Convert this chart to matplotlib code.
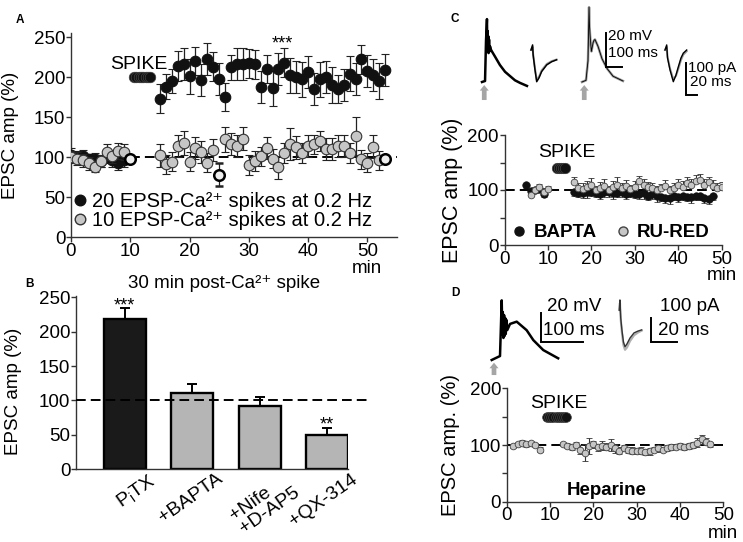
import matplotlib
matplotlib.use('Agg')
import matplotlib.pyplot as plt
from matplotlib.lines import Line2D
import matplotlib.transforms as mtransforms

plt.rcParams['font.family'] = ['Liberation Sans', 'DejaVu Sans']
plt.rcParams['mathtext.fontset'] = 'custom'
plt.rcParams['mathtext.rm'] = 'Liberation Sans'
plt.rcParams['mathtext.it'] = 'Liberation Sans:italic'
plt.rcParams['mathtext.bf'] = 'Liberation Sans:bold'

# ------------------------------------------------------------------ data
# Panel A : EPSC amplitude (%) vs time (min)
A_BLACK_BASE_T = [0, 1, 2, 3, 4, 5, 6, 7, 8, 9]
A_BLACK_BASE_V = [103, 100, 101, 97, 97, 95, 100, 96, 93, 96]
A_BLACK_BASE_E = [8, 7, 8, 7, 8, 7, 8, 9, 9, 8]
A_BLACK_T = list(range(15, 54))
A_BLACK_V = [173, 188, 195, 214, 216, 201, 220, 196, 223, 213, 197, 175, 212,
             216, 216, 217, 216, 187, 210, 186, 210, 218, 202, 200, 197, 206,
             185, 197, 200, 190, 185, 190, 204, 198, 222, 207, 203, 195, 209]
A_BLACK_E = [18, 16, 15, 19, 20, 22, 18, 20, 20, 18, 20, 18, 16, 20, 20, 18, 18,
             20, 18, 22, 20, 18, 22, 20, 22, 20, 20, 22, 20, 22, 18, 20, 22, 20,
             18, 20, 20, 22, 20]
A_GRAY_BASE_T = [0, 1, 2, 3, 4, 5, 6, 7, 8, 9]
A_GRAY_BASE_V = [100, 98, 96, 92, 88, 95, 106, 101, 108, 106]
A_GRAY_BASE_E = [8, 8, 8, 8, 7, 8, 10, 8, 10, 10]
A_GRAY_T = [15, 16, 17, 18, 19, 20, 21, 22, 23, 24, 26, 27, 28, 29, 30, 31, 32,
            33, 34, 35, 36, 37, 38, 39, 40, 41, 42, 43, 44, 45, 46, 47, 48, 49,
            50, 51, 52]
A_GRAY_V = [102, 91, 94, 114, 117, 94, 111, 106, 93, 109, 122, 116, 114, 123,
            90, 95, 101, 111, 98, 87, 105, 116, 112, 105, 114, 116, 120, 110,
            110, 114, 114, 105, 126, 97, 93, 113, 96]
A_GRAY_E = [14, 12, 12, 14, 15, 12, 14, 14, 12, 14, 16, 14, 14, 14, 12, 12, 12,
            14, 12, 14, 12, 20, 14, 12, 14, 12, 12, 14, 14, 14, 14, 12, 24, 12,
            12, 14, 12]
A_OPEN_T = [10, 25, 53]
A_OPEN_V = [97, 78, 98]
A_OPEN_E = [0, 14, 0]
A_SPIKE_T = [10.6, 11.0, 11.4, 11.8, 12.2, 12.6, 13.0, 13.4]
A_SPIKE_V = [200, 200, 200, 200, 200, 200, 200, 200]
A_LEGEND = ['20 EPSP-Ca²⁺ spikes at 0.2 Hz', '10 EPSP-Ca²⁺ spikes at 0.2 Hz']

# Panel B : 30 min post-Ca2+ spike
B_LABELS = ['P$_{\\mathrm{i}}$TX', '+BAPTA', '+Nife\n+D-AP5', '+QX-314']
B_VALUES = [218, 110, 92, 50]
B_ERR = [16, 14, 13, 10]
B_STARS = ['***', '', '', '**']

# Panel C : BAPTA vs RU-RED
C_BLACK_T = [5, 6, 7, 8, 9] + list(range(16, 49))
C_BLACK_V = [109, 98, 100, 102, 93,
             97, 95, 94, 96, 97, 95, 93, 96, 96, 94, 95, 96, 93, 95,
             93, 92, 94, 90, 92, 89, 88, 86, 85, 90, 88, 90, 88, 87, 90, 89, 86, 84, 90]
C_BLACK_E = [6, 6, 6, 6, 6,
             8, 8, 8, 10, 8, 8, 10, 8, 8, 10, 8, 8, 10, 8, 8, 8, 10, 8, 8, 10, 8,
             10, 10, 8, 10, 8, 8, 10, 8, 8, 10, 10, 8]
C_GRAY_T = [6, 7, 8, 9, 10] + list(range(16, 51))
C_GRAY_V = [91, 100, 105, 97, 101,
            115, 104, 102, 106, 110, 100, 104, 108, 100, 106, 110, 104, 108, 102,
            106, 116, 110, 106, 104, 100, 103, 108, 100, 104, 110, 106, 112, 110,
            116, 118, 110, 114, 108, 104, 106]
C_GRAY_E = [6, 6, 6, 6, 6,
            8, 8, 10, 10, 12, 8, 10, 12, 8, 10, 14, 8, 10, 8, 10, 10, 10, 8, 8, 8,
            8, 10, 8, 8, 10, 10, 12, 10, 12, 12, 10, 10, 10, 8, 8]
C_SPIKE_T = [12.0, 12.5, 13.0, 13.5, 14.0]
C_SPIKE_V = [140, 140, 140, 140, 140]
C_LEGEND = ['BAPTA', 'RU-RED']

# Panel D : Heparine
D_T = [1.5, 2.5, 3.5, 4.5, 5.5, 6.5, 7.7] + list(range(13, 48))
D_V = [98, 102, 104, 101, 103, 100, 92,
       102, 99, 97, 100, 92, 86, 98, 101, 96, 99, 97, 100, 94, 90, 95, 91, 90,
       89, 90, 88, 89, 92, 94, 92, 95, 96, 97, 99, 97, 98, 100, 104, 110, 106, 101]
D_E = [4, 4, 4, 4, 4, 4, 4,
       4, 5, 5, 6, 8, 15, 14, 6, 6, 8, 6, 10, 8, 6, 5, 5, 6, 5, 6, 5, 6, 5, 6, 5,
       5, 5, 4, 4, 5, 5, 5, 8, 8, 6, 5]
D_SPIKE_T = [9.3, 9.8, 10.3, 10.8, 11.3, 11.8, 12.3, 12.8, 13.3, 13.8]
D_SPIKE_V = [150, 150, 150, 150, 150, 150, 150, 150, 150, 150]

# Example traces (time in ms, membrane potential in mV / current in pA)
C_V1_T = [0, 19, 25, 31, 33, 35, 37, 39, 41, 44, 47, 50, 56, 62, 81, 112, 144, 175, 206, 237, 281]
C_V1_V = [0, 0.6, 24, 37, 20, 30, 18, 27, 17, 25, 18, 21, 19, 18, 15, 10, 6, 3.5, 1, -0.5, -2.3]
C_I1_T = [0, 3, 4, 7.5, 10.7, 15, 20, 29.5, 38.8, 48]
C_I1_BLACK = [0, 16, -16, -63, -100, -88, -68, -47, -37, -31]
C_I1_GRAY = [0, 10, -12, -58, -94, -84, -64, -44, -35, -30]
C_V2_T = [0, 25, 37.5, 44, 47, 50, 55, 59, 65, 69, 75, 81, 100, 125, 156, 194, 256]
C_V2_V = [0, 1, 12.6, 44, 33, 28, 22, 18, 21, 23, 24.5, 25, 21, 13.7, 8, 3.4, 0.6]
C_I2_T = [0, 3.2, 4.7, 9.4, 15.6, 20.6, 25, 30, 34.3, 40.7]
C_I2_BLACK = [0, 16, -25, -63, -100, -79, -53, -25, -10, 0]
C_I2_GRAY = [0, 10, -20, -58, -92, -82, -60, -32, -15, -4]
D_V_T = [0, 19.5, 23.5, 25, 26, 27.5, 29, 30.3, 31.7, 33, 34.7, 36.6, 43, 58.7, 82, 97.7, 121, 156]
D_V_V = [0, 2.8, 42, 17.6, 33.8, 15.5, 31.7, 16.9, 29.6, 18.3, 28.2, 21.1, 25.4, 27, 21, 14, 7, 1.2]
D_I_T = [0, 0.5, 1.1, 2, 3.2, 4.4, 5.9, 8.2, 11.3, 14.4, 17.2]
D_I_BLACK = [0, 43, -34, -85, -137, -157, -145, -120, -98, -90, -85]
D_I_GRAY = [0, 30, -40, -95, -150, -170, -160, -133, -108, -96, -88]

# ------------------------------------------------------------------ figure
W, H = 743, 542
fig = plt.figure(figsize=(W / 100, H / 100), dpi=100)

DARK = '#222222'
GRAYFILL = '#c6c6c6'
BARGRAY = '#b5b5b5'
TICKFS = 13.5
MS_A = 7.6
MS_C = 4.8
MS_CB = 5.4


def px_axes(left, top, right, bottom):
    return fig.add_axes([left / W, 1 - bottom / H, (right - left) / W, (bottom - top) / H])


def style(ax):
    for s in ['top', 'right']:
        ax.spines[s].set_visible(False)
    for s in ['left', 'bottom']:
        ax.spines[s].set_linewidth(1.0)
        ax.spines[s].set_color('#333333')
    ax.tick_params(length=3.5, width=1.0, color='#333333', labelsize=TICKFS, pad=0.5)
    ax.patch.set_alpha(0)


DASH = (0, (5, 2.6))

# ---------------- Panel A
axA = px_axes(71, 33, 397, 237)
style(axA)
axA.set_xlim(0, 55)
axA.set_ylim(0, 255)
axA.set_xticks([0, 10, 20, 30, 40, 50])
axA.set_yticks([0, 50, 100, 150, 200, 250])
axA.axhline(100, color='black', lw=1.4, ls=DASH, zorder=1)
axA.errorbar(A_BLACK_BASE_T + A_BLACK_T, A_BLACK_BASE_V + A_BLACK_V,
             yerr=A_BLACK_BASE_E + A_BLACK_E, fmt='o', ms=MS_A, mfc='#111111', mec='#111111',
             mew=0.8, ecolor=DARK, elinewidth=0.9, capsize=2.8, capthick=0.9, zorder=3)
axA.errorbar(A_GRAY_BASE_T + A_GRAY_T, A_GRAY_BASE_V + A_GRAY_V,
             yerr=A_GRAY_BASE_E + A_GRAY_E, fmt='o', ms=MS_A, mfc=GRAYFILL, mec='#333333',
             mew=0.8, ecolor=DARK, elinewidth=0.9, capsize=2.8, capthick=0.9, zorder=4)
axA.errorbar(A_OPEN_T, A_OPEN_V, yerr=A_OPEN_E, fmt='o', ms=MS_A, mfc='#eeeeee',
             mec='black', mew=1.8, ecolor=DARK, elinewidth=0.9, capsize=2.8,
             capthick=0.9, zorder=5)
axA.plot(A_SPIKE_T, A_SPIKE_V, 'o', ms=MS_A, mfc='#111111', mec='#444444', mew=0.5,
         zorder=5, clip_on=False)
axA.text(11.5, 216, 'SPIKE', ha='center', va='center', fontsize=14)
axA.text(35.6, 236, '***', ha='center', va='baseline', fontsize=13)
axA.annotate('min', xy=(50, 0), xycoords=('data', 'axes fraction'), xytext=(0, -23),
             textcoords='offset points', ha='center', va='center', fontsize=13.5)
hA = [Line2D([], [], ls='none', marker='o', ms=MS_A, mfc='#111111', mec='#111111'),
      Line2D([], [], ls='none', marker='o', ms=MS_A, mfc=GRAYFILL, mec='#333333')]
axA.legend(hA, A_LEGEND, loc='lower left', bbox_to_anchor=(0.012, 0.035), frameon=False,
           fontsize=14.5, handlelength=0.55, handletextpad=0.3, borderpad=0,
           borderaxespad=0, labelspacing=0.0)
axA.set_ylabel('EPSC amp (%)', fontsize=13.5)
axA.yaxis.set_label_coords((19 - 71) / 326, 0.5)
fig.text(20 / W, 1 - 20 / H, 'A', fontsize=8.5, fontweight='bold', ha='center', va='center')

# ---------------- Panel B
axB = px_axes(76, 296, 348, 469)
style(axB)
xs = list(range(len(B_VALUES)))
axB.set_xlim(-0.72, 3.31)
axB.set_ylim(0, 252)
axB.set_yticks([0, 50, 100, 150, 200, 250])
axB.tick_params(axis='x', length=0, labelbottom=False)
axB.bar(xs, B_VALUES, width=0.62, color=['#1a1a1a', BARGRAY, BARGRAY, BARGRAY],
        edgecolor='black', linewidth=1.7, zorder=2)
axB.errorbar(xs, B_VALUES, yerr=[[0] * len(B_ERR), B_ERR], fmt='none', ecolor='black',
             elinewidth=1.4, capsize=3.8, capthick=1.4, zorder=1)
trB = mtransforms.blended_transform_factory(axB.transAxes, axB.transData)
axB.plot([0, 1.07], [100, 100], color='black', lw=1.4, ls=DASH, transform=trB,
         clip_on=False, zorder=3)
for x, v, e, s in zip(xs, B_VALUES, B_ERR, B_STARS):
    if s:
        axB.text(x, v + e - 3, s, ha='center', va='baseline', fontsize=13)
for x, lab in zip(xs, B_LABELS):
    axB.annotate(lab, xy=(x, 0), xytext=(17, -1), textcoords='offset points',
                 rotation=35, rotation_mode='anchor', ha='right', va='top',
                 multialignment='left', fontsize=14, linespacing=0.95)
axB.set_ylabel('EPSC amp (%)', fontsize=13.5)
axB.yaxis.set_label_coords((22 - 76) / 272, 0.45)
fig.text(224 / W, 1 - 283 / H, '30 min post-Ca²⁺ spike', fontsize=13.5,
         ha='center', va='center')
fig.text(30 / W, 1 - 284 / H, 'B', fontsize=8.5, fontweight='bold', ha='center', va='center')

# ---------------- Panel C
axC = px_axes(504.5, 135, 721.7, 245)
style(axC)
axC.set_xlim(0, 50)
axC.set_ylim(0, 200)
axC.set_xticks([0, 10, 20, 30, 40, 50])
axC.set_yticks([0, 50, 100, 150, 200])
axC.set_yticklabels(['0', '', '100', '', '200'])
axC.axhline(100, color='black', lw=1.4, ls=DASH, zorder=1)
axC.errorbar(C_BLACK_T, C_BLACK_V, yerr=[C_BLACK_E, [0] * len(C_BLACK_E)], fmt='o', ms=MS_CB,
             mfc='#111111', mec='#111111', mew=0.5, ecolor=DARK, elinewidth=0.8,
             capsize=2.2, capthick=0.8, zorder=3)
axC.errorbar(C_GRAY_T, C_GRAY_V, yerr=[[0] * len(C_GRAY_E), C_GRAY_E], fmt='o', ms=MS_C,
             mfc=GRAYFILL, mec='#444444', mew=0.6, ecolor='#333333', elinewidth=0.8,
             capsize=2.2, capthick=0.8, zorder=4)
axC.plot(C_SPIKE_T, C_SPIKE_V, 'o', ms=7.5, mfc='#111111', mec='#444444', mew=0.5, zorder=5)
axC.text(14.3, 168, 'SPIKE', ha='center', va='center', fontsize=14)
hC = [Line2D([], [], ls='none', marker='o', ms=6.5, mfc='#111111', mec='#111111'),
      Line2D([], [], ls='none', marker='o', ms=6.5, mfc=GRAYFILL, mec='#444444')]
axC.legend(hC, C_LEGEND, loc='center left', bbox_to_anchor=(0.035, 0.11), frameon=False,
           ncol=2, prop={'size': 13.5, 'weight': 'bold'}, handlelength=0.75,
           handletextpad=0.4, columnspacing=1.0, borderpad=0, borderaxespad=0)
axC.annotate('min', xy=(50, 0), xycoords=('data', 'axes fraction'), xytext=(0, -22),
             textcoords='offset points', ha='center', va='center', fontsize=13.5)
axC.set_ylabel('EPSC amp (%)', fontsize=15.5)
axC.yaxis.set_label_coords((463 - 504.5) / 217.2, 0.5)
fig.text(455 / W, 1 - 19 / H, 'C', fontsize=8.5, fontweight='bold', ha='center', va='center')

# ---------------- Panel D
axD = px_axes(506.7, 388.3, 723.3, 501.7)
style(axD)
axD.set_xlim(0, 50)
axD.set_ylim(0, 200)
axD.set_xticks([0, 10, 20, 30, 40, 50])
axD.set_yticks([0, 50, 100, 150, 200])
axD.set_yticklabels(['0', '', '100', '', '200'])
axD.axhline(100, color='black', lw=1.4, ls=DASH, zorder=1)
axD.errorbar(D_T, D_V, yerr=D_E, fmt='o', ms=MS_C, mfc=GRAYFILL, mec='#444444', mew=0.6,
             ecolor='#333333', elinewidth=0.8, capsize=2.2, capthick=0.8, zorder=4)
axD.plot(D_SPIKE_T, D_SPIKE_V, 'o', ms=7.0, mfc='#111111', mec='#444444', mew=0.5, zorder=5)
axD.text(12, 174, 'SPIKE', ha='center', va='center', fontsize=14)
axD.text(0.46, 0.1, 'Heparine', transform=axD.transAxes, ha='center', va='center',
         fontsize=13.5, fontweight='bold')
axD.annotate('min', xy=(50, 0), xycoords=('data', 'axes fraction'), xytext=(0, -23),
             textcoords='offset points', ha='center', va='center', fontsize=13.5)
axD.set_ylabel('EPSC amp. (%)', fontsize=14.5)
axD.yaxis.set_label_coords((460 - 506.7) / 216.6, 0.5)
fig.text(455 / W, 1 - 293 / H, 'D', fontsize=8.5, fontweight='bold', ha='center', va='center')


# ---------------- example traces
def trace_ax(ox, oy, sx, sy, xlim, ylim):
    """Inset whose data origin (0,0) sits at pixel (ox, oy), sx/sy = pixels per unit."""
    left = ox + xlim[0] * sx
    right = ox + xlim[1] * sx
    top = oy - ylim[1] * sy
    bottom = oy - ylim[0] * sy
    ax = px_axes(left, top, right, bottom)
    ax.set_xlim(xlim)
    ax.set_ylim(ylim)
    ax.axis('off')
    return ax


def stim_arrow(ax, t, v_tip, v_base):
    ax.annotate('', xy=(t, v_tip), xytext=(t, v_base),
                arrowprops=dict(facecolor='#a5a5a5', edgecolor='none', width=3.4,
                                headwidth=6.5, headlength=4.0, shrink=0),
                annotation_clip=False)


def scale_bar(ax, x0, y0, dx, dy, lab_y, lab_x, fs, ty, tx):
    ax.plot([x0, x0, x0 + dx], [y0 + dy, y0, y0], color='black', lw=1.4,
            solid_joinstyle='miter', clip_on=False)
    ax.text(ty[0], ty[1], lab_y, fontsize=fs, ha='left', va='center')
    ax.text(tx[0], tx[1], lab_x, fontsize=fs, ha='left', va='center')


# C, voltage trace 1 (black)
axcv1 = trace_ax(482, 82, 0.16, 1.7, (-30, 300), (-12, 46))
axcv1.plot(C_V1_T, C_V1_V, color='black', lw=1.8, clip_on=False)
stim_arrow(axcv1, 14, -1.8, -10.6)
# C, EPSC 1
axci1 = trace_ax(531, 50, 0.533, 0.317, (-5, 50), (-110, 25))
axci1.plot(C_I1_T, C_I1_GRAY, color='#9a9a9a', lw=1.4, clip_on=False)
axci1.plot(C_I1_T, C_I1_BLACK, color='black', lw=1.1, clip_on=False)
# C, voltage trace 2 (gray + black overlay)
axcv2 = trace_ax(582, 82, 0.16, 1.7, (-30, 420), (-12, 48))
axcv2.plot(C_V2_T, C_V2_V, color='#9a9a9a', lw=1.8, clip_on=False)
axcv2.plot(C_V2_T, C_V2_V, color='black', lw=0.6, clip_on=False)
stim_arrow(axcv2, 14, -1.8, -10.6)
scale_bar(axcv2, 148, 9, 100, 20, '20 mV', '100 ms', 11, (164, 27), (162, 17))
# C, EPSC 2
axci2 = trace_ax(665, 50, 0.533, 0.317, (-5, 140), (-150, 25))
axci2.plot(C_I2_T, C_I2_GRAY, color='#9a9a9a', lw=1.4, clip_on=False)
axci2.plot(C_I2_T, C_I2_BLACK, color='black', lw=1.0, clip_on=False)
scale_bar(axci2, 39.4, -142, 20, 100, '100 pA', '20 ms', 11, (43.2, -58), (46.9, -100))

# D, voltage trace
axdv = trace_ax(491.7, 360, 0.426, 1.42, (-10, 280), (-12, 45))
axdv.plot(D_V_T, D_V_V, color='black', lw=1.8, clip_on=False)
stim_arrow(axdv, 5.4, -1.9, -10.6)
scale_bar(axdv, 115, 12.9, 100, 20, '20 mV', '100 ms', 13.5, (129, 37.5), (121, 21.1))
# D, EPSC
axdi = trace_ax(619.3, 310, 1.3, 0.234, (-3, 80), (-180, 50))
axdi.plot(D_I_T, D_I_GRAY, color='#b0b0b0', lw=1.6, clip_on=False)
axdi.plot(D_I_T, D_I_BLACK, color='#333333', lw=1.0, clip_on=False)
scale_bar(axdi, 24.2, -135.5, 20, 100, '100 pA', '20 ms', 13.5, (31.3, 14.1), (30.0, -85.5))

fig.savefig('out.png', dpi=100)
